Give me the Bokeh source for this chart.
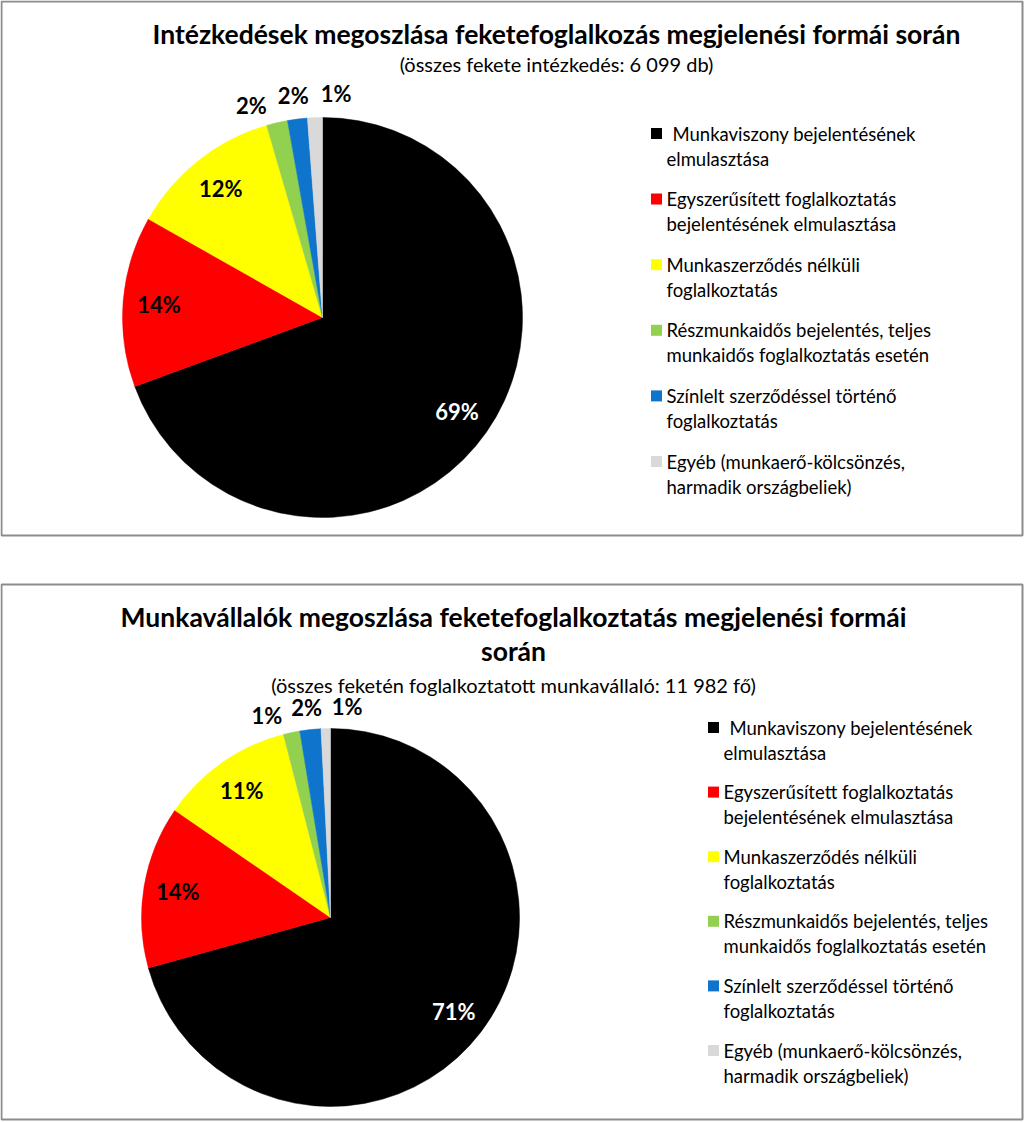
import math
import textwrap
from bokeh.plotting import figure
from bokeh.models import ColumnDataSource, Range1d
from bokeh.core.properties import value
from bokeh.embed import file_html
from bokeh.resources import INLINE

# ---------------- data ----------------
categories = [
    "Munkaviszony bejelentésének elmulasztása",
    "Egyszerűsített foglalkoztatás bejelentésének elmulasztása",
    "Munkaszerződés nélküli foglalkoztatás",
    "Részmunkaidős bejelentés, teljes munkaidős foglalkoztatás esetén",
    "Színlelt szerződéssel történő foglalkoztatás",
    "Egyéb (munkaerő-kölcsönzés, harmadik országbeliek)",
]
colors = ["#000000", "#FF0000", "#FFFF00", "#92D050", "#0F75CC", "#D9D9D9"]

title_1 = "Intézkedések megoszlása feketefoglalkozás megjelenési formái során"
subtitle_1 = "(összes fekete intézkedés: 6 099 db)"
share_1 = [69.4, 13.8, 12.3, 1.7, 1.6, 1.2]

title_2 = "Munkavállalók megoszlása feketefoglalkoztatás megjelenési formái során"
subtitle_2 = "(összes feketén foglalkoztatott munkavállaló: 11 982 fő)"
share_2 = [70.7, 13.9, 11.4, 1.4, 1.8, 0.8]

# ---------------- layout ----------------
W, H = 1024, 1122
FONT = "Lato"

p = figure(width=W, height=H, output_backend="svg", toolbar_location=None,
           x_range=Range1d(0, W), y_range=Range1d(0, H), min_border=0)
p.axis.visible = False
p.grid.visible = False
p.outline_line_color = None
p.background_fill_color = "white"


def X(rx):
    return rx


def Y(ry):
    return H - ry


def draw_chart(title, subtitle, shares, cx, cy, r, title_cx, title_ys, sub_y,
               leg_x, leg_y0, leg_step, box):
    # border
    p.quad(left=[box[0]], right=[box[1]], top=[box[2]], bottom=[box[3]],
           fill_color=None, line_color="#8C8C8C", line_width=2)

    # title
    lines = textwrap.wrap(title, 66)
    p.text(x=[title_cx] * len(lines), y=title_ys[:len(lines)], text=lines,
           text_font=value(FONT), text_font_style="bold", text_font_size="26.5px",
           text_align="center", text_baseline="middle", text_color="black")
    p.text(x=[title_cx], y=[sub_y], text=[subtitle], text_font=value(FONT),
           text_font_size="20px", text_align="center", text_baseline="middle",
           text_color="black")

    # wedges (clockwise from 12 o'clock)
    total = sum(shares)
    starts, ends, mids = [], [], []
    cum = 0.0
    for v in shares:
        a0 = math.pi / 2 - 2 * math.pi * cum / total
        cum += v
        a1 = math.pi / 2 - 2 * math.pi * cum / total
        starts.append(a1)
        ends.append(a0)
        mids.append((a0 + a1) / 2)
    src = ColumnDataSource(dict(x=[cx] * len(shares), y=[cy] * len(shares),
                                start=starts, end=ends, color=colors))
    p.wedge(x="x", y="y", radius=r, start_angle="start", end_angle="end",
            fill_color="color", line_color="color", line_width=0.5, source=src)

    # data labels
    labels = ["%d%%" % round(v / total * 100) for v in shares]
    in_x, in_y, in_t, in_c = [], [], [], []
    out_idx = []
    for i, v in enumerate(shares):
        if v / total >= 0.05:
            in_x.append(cx + 0.82 * r * math.cos(mids[i]))
            in_y.append(cy + 0.82 * r * math.sin(mids[i]))
            in_t.append(labels[i])
            in_c.append("white" if colors[i] == "#000000" else "black")
        else:
            out_idx.append(i)
    p.text(x=in_x, y=in_y, text=in_t, text_color=in_c, text_font=value(FONT),
           text_font_style="bold", text_font_size="22px", text_align="center",
           text_baseline="middle")
    # spread outside labels
    if out_idx:
        sep = math.radians(11)
        mean = sum(mids[i] for i in out_idx) / len(out_idx)
        n = len(out_idx)
        order = sorted(out_idx, key=lambda i: -mids[i])
        ox, oy, ot = [], [], []
        for k, i in enumerate(order):
            ang = mean + ((n - 1) / 2 - k) * sep
            ox.append(cx + 1.12 * r * math.cos(ang))
            oy.append(cy + 1.12 * r * math.sin(ang))
            ot.append(labels[i])
        p.text(x=ox, y=oy, text=ot, text_color="black", text_font=value(FONT),
               text_font_style="bold", text_font_size="22px", text_align="center",
               text_baseline="middle")

    # legend
    sq_x, sq_y, tx, ty, tt = [], [], [], [], []
    for i, cat in enumerate(categories):
        y0 = leg_y0 - i * leg_step
        sq_x.append(leg_x + 6)
        sq_y.append(y0)
        for j, ln in enumerate(textwrap.wrap(cat, 34)):
            tx.append(leg_x + 16 + (6 if (i == 0 and j == 0) else 0))
            ty.append(y0 - j * 25)
            tt.append(ln)
    p.rect(x=sq_x, y=sq_y, width=11, height=11, fill_color=colors,
           line_color=None)
    p.text(x=tx, y=ty, text=tt, text_font=value(FONT), text_font_size="18.5px",
           text_align="left", text_baseline="middle", text_color="black")


draw_chart(title_1, subtitle_1, share_1, X(322), Y(317), 200,
           X(556), [Y(33)], Y(63), X(650), Y(133), 65.6,
           (1, 1022, Y(1), Y(535)))
draw_chart(title_2, subtitle_2, share_2, X(330), Y(917), 189,
           X(513), [Y(616), Y(650)], Y(684), X(707), Y(727), 64.6,
           (1, 1022, Y(584), Y(1119)))

open("out.html", "w").write(file_html(p, INLINE))
